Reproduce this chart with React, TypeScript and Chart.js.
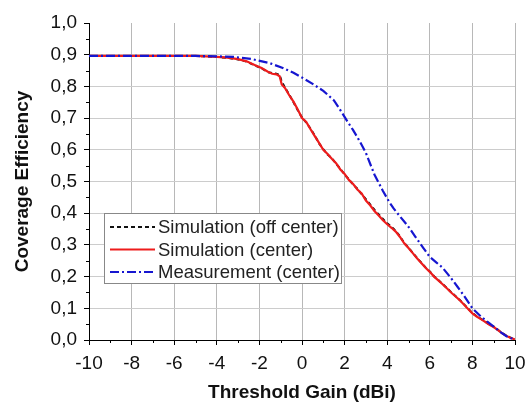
import { useEffect, useRef } from "react";
import { Chart, registerables } from "chart.js";

Chart.register(...registerables);

const simX = [-10, -8, -6, -5, -4.5, -4, -3.5, -3, -2.6, -2.2, -1.9, -1.6, -1.4, -1.2, -1.05, -0.95, -0.8, -0.6, -0.4, -0.2, 0, 0.2, 0.4, 0.6, 0.8, 1.0, 1.2, 1.4, 1.6, 1.8, 2.0, 2.2, 2.4, 2.6, 2.8, 3.0, 3.2, 3.4, 3.6, 3.8, 4.0, 4.2, 4.4, 4.6, 4.8, 5.0, 5.2, 5.4, 5.6, 5.8, 6.0, 6.2, 6.4, 6.6, 6.8, 7.0, 7.2, 7.4, 7.6, 7.8, 8.0, 8.2, 8.4, 8.6, 8.8, 9.0, 9.2, 9.4, 9.6, 9.8, 10];
const simCenter = [0.896, 0.896, 0.896, 0.896, 0.895, 0.893, 0.891, 0.886, 0.879, 0.867, 0.858, 0.846, 0.840, 0.838, 0.832, 0.806, 0.795, 0.772, 0.752, 0.727, 0.700, 0.688, 0.665, 0.643, 0.622, 0.600, 0.587, 0.572, 0.558, 0.538, 0.524, 0.505, 0.492, 0.475, 0.462, 0.440, 0.425, 0.407, 0.393, 0.378, 0.365, 0.354, 0.342, 0.325, 0.305, 0.290, 0.274, 0.258, 0.243, 0.228, 0.215, 0.200, 0.188, 0.176, 0.163, 0.150, 0.138, 0.126, 0.112, 0.098, 0.084, 0.074, 0.066, 0.057, 0.048, 0.041, 0.031, 0.021, 0.013, 0.006, 0.002];
const simOffCenter = [0.896, 0.896, 0.896, 0.896, 0.895, 0.893, 0.890, 0.885, 0.878, 0.866, 0.857, 0.845, 0.842, 0.840, 0.836, 0.815, 0.797, 0.774, 0.750, 0.725, 0.702, 0.686, 0.667, 0.645, 0.620, 0.602, 0.585, 0.574, 0.556, 0.540, 0.522, 0.507, 0.490, 0.477, 0.460, 0.444, 0.428, 0.411, 0.396, 0.382, 0.368, 0.357, 0.344, 0.327, 0.306, 0.291, 0.275, 0.259, 0.244, 0.229, 0.216, 0.201, 0.189, 0.177, 0.164, 0.151, 0.139, 0.127, 0.113, 0.099, 0.085, 0.075, 0.067, 0.058, 0.049, 0.042, 0.032, 0.022, 0.014, 0.007, 0.002];

const measX = [-10, -8, -6, -5, -4, -3.2, -2.4, -1.5, -0.9, -0.4, 0, 0.5, 1.0, 1.5, 1.8, 2.1, 2.4, 2.7, 3.0, 3.4, 3.8, 4.1, 4.3, 4.6, 5.0, 5.3, 5.7, 6.0, 6.3, 6.6, 7.0, 7.3, 7.6, 8.0, 8.4, 8.7, 9.0, 9.3, 9.6, 9.8, 10];
const measCenter = [0.896, 0.896, 0.896, 0.896, 0.895, 0.893, 0.887, 0.873, 0.858, 0.843, 0.828, 0.808, 0.786, 0.756, 0.725, 0.693, 0.662, 0.628, 0.590, 0.522, 0.470, 0.435, 0.415, 0.390, 0.357, 0.328, 0.290, 0.262, 0.245, 0.228, 0.195, 0.168, 0.140, 0.100, 0.074, 0.058, 0.042, 0.026, 0.012, 0.006, 0.003];

const seriesLabels = ["Simulation (off center)", "Simulation (center)", "Measurement (center)"];
const xTitle = "Threshold Gain (dBi)";
const yTitle = "Coverage Efficiency";
const xMinorTicks = [-9, -7, -5, -3, -1, 1, 3, 5, 7, 9];
const yMinorTicks = [0.05, 0.15, 0.25, 0.35, 0.45, 0.55, 0.65, 0.75, 0.85, 0.95];

const FONT = "'Liberation Sans', Arial, sans-serif";

const minorTickPlugin = {
  id: "minorTicks",
  afterDraw(chart: any) {
    const ctx = chart.ctx;
    const xs = chart.scales.x;
    const ys = chart.scales.y;
    const area = chart.chartArea;
    ctx.save();
    ctx.strokeStyle = "#000";
    ctx.lineWidth = 1;
    ctx.beginPath();
    for (const v of xMinorTicks) {
      const px = Math.round(xs.getPixelForValue(v)) + 0.5;
      ctx.moveTo(px, area.bottom);
      ctx.lineTo(px, area.bottom + 3);
    }
    for (const v of yMinorTicks) {
      const py = Math.round(ys.getPixelForValue(v)) + 0.5;
      ctx.moveTo(area.left, py);
      ctx.lineTo(area.left - 3, py);
    }
    ctx.stroke();
    ctx.restore();
  },
};

const legendPlugin = {
  id: "boxLegend",
  afterDraw(chart: any) {
    const ctx = chart.ctx;
    const area = chart.chartArea;
    const bx = area.left + 15;
    const by = area.top + 190;
    const bw = 237;
    const bh = 70;
    ctx.save();
    ctx.fillStyle = "#fff";
    ctx.fillRect(bx, by, bw, bh);
    ctx.strokeStyle = "#888";
    ctx.lineWidth = 1;
    ctx.strokeRect(bx + 0.5, by + 0.5, bw, bh);
    ctx.font = `18.5px ${FONT}`;
    ctx.textBaseline = "middle";
    chart.data.datasets.forEach((ds: any, i: number) => {
      const cy = by + 14 + i * 22.5;
      ctx.beginPath();
      ctx.strokeStyle = ds.borderColor;
      ctx.lineWidth = ds.borderWidth;
      ctx.setLineDash(ds.borderDash || []);
      ctx.moveTo(bx + 6, cy);
      ctx.lineTo(bx + 51, cy);
      ctx.stroke();
      ctx.setLineDash([]);
      ctx.fillStyle = "#222";
      ctx.fillText(ds.label, bx + 54, cy + 1);
    });
    ctx.restore();
  },
};

function toPoints(xs: number[], ys: number[]) {
  return xs.map((x, i) => ({ x, y: ys[i] }));
}

export default function App() {
  const ref = useRef<HTMLCanvasElement>(null);
  useEffect(() => {
    if (!ref.current) return;
    const chart = new Chart(ref.current, {
      type: "line",
      data: {
        datasets: [
          {
            label: seriesLabels[0],
            data: toPoints(simX, simOffCenter),
            borderColor: "#111111",
            borderWidth: 2,
            borderDash: [4, 3],
            pointRadius: 0,
            tension: 0,
            order: 2,
          },
          {
            label: seriesLabels[1],
            data: toPoints(simX, simCenter),
            borderColor: "#ee1c1c",
            borderWidth: 2.2,
            pointRadius: 0,
            tension: 0,
            order: 1,
          },
          {
            label: seriesLabels[2],
            data: toPoints(measX, measCenter),
            borderColor: "#1616d0",
            borderWidth: 2.2,
            borderDash: [9, 3, 2, 3],
            pointRadius: 0,
            tension: 0,
            order: 0,
          },
        ],
      },
      options: {
        responsive: false,
        animation: false,
        events: [],
        layout: { padding: { top: 23, right: 25, left: 0, bottom: 0 } },
        plugins: { legend: { display: false }, tooltip: { enabled: false } },
        scales: {
          x: {
            type: "linear",
            min: -10,
            max: 10,
            ticks: {
              stepSize: 2,
              autoSkip: false,
              maxRotation: 0,
              padding: 7,
              color: "#111",
              font: { size: 19, family: FONT },
              callback: (v: any) => String(v),
            },
            grid: { color: "#b8b8b8", tickColor: "#000", tickLength: 5, lineWidth: 1 },
            border: { color: "#000", width: 1 },
            title: {
              display: true,
              text: xTitle,
              color: "#111",
              font: { size: 19, weight: "bold", family: FONT },
              padding: { top: 0, bottom: -1 },
            },
            afterFit: (s: any) => {
              s.height = 63;
            },
          },
          y: {
            type: "linear",
            min: 0,
            max: 1,
            ticks: {
              stepSize: 0.1,
              padding: 7,
              color: "#111",
              font: { size: 19, family: FONT },
              callback: (v: any) => Number(v).toFixed(1).replace(".", ","),
            },
            grid: {
              color: (c: any) => (c.tick && c.tick.value > 0.999 ? "rgba(0,0,0,0)" : "#cccccc"),
              tickColor: "#000",
              tickLength: 5,
              lineWidth: 1,
            },
            border: { color: "#000", width: 1 },
            title: {
              display: true,
              text: yTitle,
              color: "#111",
              font: { size: 19, weight: "bold", family: FONT },
              padding: { top: 11, bottom: 0 },
            },
            afterFit: (s: any) => {
              s.width = 89;
            },
          },
        },
      },
      plugins: [minorTickPlugin, legendPlugin],
    } as any);
    return () => chart.destroy();
  }, []);
  return (
    <div style={{ position: "fixed", left: 0, top: 0, width: 527, height: 403, overflow: "hidden", background: "#fff" }}>
      <canvas ref={ref} width={540} height={403} style={{ display: "block", width: 540, height: 403 }} />
    </div>
  );
}
